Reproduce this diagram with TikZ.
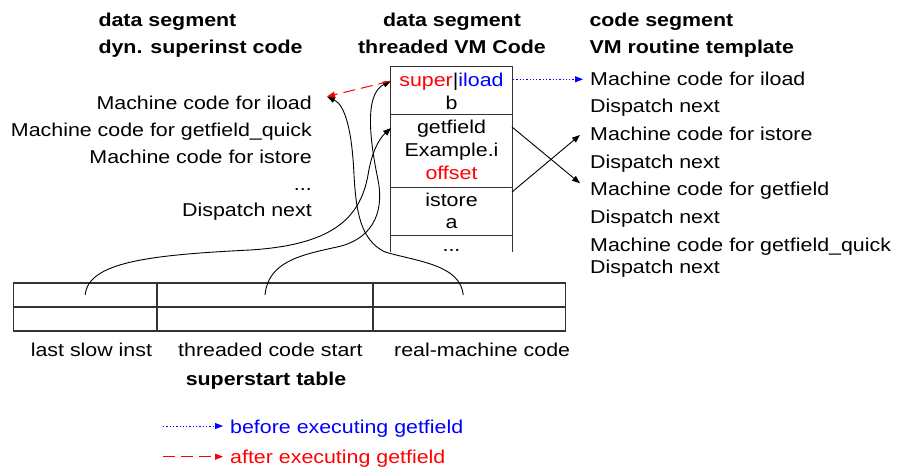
\documentclass[tikz,border=0pt]{standalone}
\usepackage{fontspec}
\setmainfont{Liberation Sans}[FakeStretch=1.15]
\usetikzlibrary{arrows.meta,calc}
\newcommand\fs{\fontsize{18.6}{23}\selectfont}
\begin{document}
\begin{tikzpicture}[x=1pt,y=-1pt,
  every node/.style={inner sep=0pt, font=\fs},
  lbl/.style={anchor=base west},
  lblr/.style={anchor=base east},
  lblc/.style={anchor=base},
  ttl/.style={anchor=base west, font=\fs\bfseries},
  ttlc/.style={anchor=base, font=\fs\bfseries},
  frame/.style={draw=black!80, line width=1.3pt},
  cellbox/.style={minimum width=121pt},
  tcell/.style={draw=black!80, line width=1.1pt, minimum height=24pt},
  link/.style={draw=black, line width=0.9pt, -{Triangle[length=8pt,width=6pt]}},
  before/.style={draw=blue, line width=1pt, dash pattern=on 1.3pt off 2pt, -{Triangle[length=8pt,width=6pt]}},
  after/.style={draw=red, line width=1pt, dash pattern=on 12pt off 6pt, -{Triangle[length=8pt,width=6pt]}},
]
\useasboundingbox (0,0) rectangle (897,468);

% titles
\node[ttl] (t1a) at (98.3,26.7) {data segment};
\node[ttl] (t1b) at (98.3,53.3) {dyn. superinst code};
\node[ttlc] (t2a) at (452,26.7) {data segment};
\node[ttlc] (t2b) at (452,53.3) {threaded VM Code};
\node[ttl] (t3a) at (589.3,26.7) {code segment};
\node[ttl] (t3b) at (589.3,53.3) {VM routine template};

% left column
\node[lblr] (l1) at (312,110) {Machine code for iload};
\node[lblr] (l2) at (312,136.7) {Machine code for getfield\_quick};
\node[lblr] (l3) at (312,163.3) {Machine code for istore};
\node[lblr] (l4) at (312,190) {...};
\node[lblr] (l5) at (312,216.7) {Dispatch next};

% right column
\node[lbl] (r1) at (590,86) {Machine code for iload};
\node[lbl] (r2) at (590,113) {Dispatch next};
\node[lbl] (r3) at (590,141) {Machine code for istore};
\node[lbl] (r4) at (590,168) {Dispatch next};
\node[lbl] (r5) at (590,196) {Machine code for getfield};
\node[lbl] (r6) at (590,223) {Dispatch next};
\node[lbl] (r7) at (590,251) {Machine code for getfield\_quick};
\node[lbl] (r8) at (590,273) {Dispatch next};

% threaded code box
\node[cellbox, minimum height=47pt] (c1) at (451.5,90.5) {};
\node[cellbox, minimum height=73pt] (c2) at (451.5,150.5) {};
\node[cellbox, minimum height=48pt] (c3) at (451.5,211) {};
\node[cellbox, minimum height=17pt] (c4) at (451.5,243.5) {};
\draw[frame] (c4.south west) -- (c1.north west) -- (c1.north east) -- (c4.south east);
\draw[frame] (c1.south west) -- (c1.south east);
\draw[frame] (c2.south west) -- (c2.south east);
\draw[frame] (c3.south west) -- (c3.south east);

\node[lblc] (s1) at (451.5,86.7) {\textcolor{red}{super}|\textcolor{blue}{iload}};
\node[lblc] (s2) at (451.5,109.3) {b};
\node[lblc] (s3) at (451.5,134) {getfield};
\node[lblc] (s4) at (451.5,156.7) {Example.i};
\node[lblc, text=red] (s5) at (451.5,179.3) {offset};
\node[lblc] (s6) at (451.5,206) {istore};
\node[lblc] (s7) at (451.5,228.3) {a};
\node[lblc] (s8) at (451.5,251) {...};

% superstart table
\node[tcell, minimum width=143.6pt] (tA) at (85.2,295) {};
\node[tcell, minimum width=216pt] (tB) at (265,295) {};
\node[tcell, minimum width=192.6pt] (tC) at (469.3,295) {};
\node[tcell, minimum width=143.6pt] (bA) at (85.2,319) {};
\node[tcell, minimum width=216pt] (bB) at (265,319) {};
\node[tcell, minimum width=192.6pt] (bC) at (469.3,319) {};

\node[lbl] (u1) at (30.6,356.7) {last slow inst};
\node[lbl] (u2) at (178,356.7) {threaded code start};
\node[lbl] (u3) at (394,356.7) {real-machine code};
\node[ttlc] (u4) at (266,385) {superstart table};

% connector end points
\coordinate (c1in) at (391,81);
\coordinate (c2in) at (391,128);
\coordinate (l1in) at ($(l1.east)+(15,-6.8)$);
\coordinate (tCs) at ($(tC.center)+(-6,0)$);
\coordinate (c1out) at (513,79.3);
\coordinate (r1in) at (583,79.3);
\coordinate (c2out) at (512,127);
\coordinate (c3out) at (512,192);
\coordinate (r5in) at (580,183.3);
\coordinate (r3in) at (580,135);

% curves from table
\draw[link] (tA.center) .. controls (88,262) and (150,255) .. (250,250)
  .. controls (330,245) and (360,220) .. (368,175)
  .. controls (372,150) and (380,138) .. (c2in);
\draw[link] (tB.center) .. controls (268,262) and (300,255) .. (337,247)
  .. controls (370,240) and (385,215) .. (378,180)
  .. controls (372,150) and (362,95) .. (c1in);
\draw[link] (tCs) .. controls (460,265) and (420,262) .. (385,252)
  .. controls (360,240) and (356,210) .. (354,175)
  .. controls (352,130) and (345,105) .. (l1in);

% straight arrows
\draw[link] (c2out) -- (r5in);
\draw[link] (c3out) -- (r3in);
\draw[before] (c1out) -- (r1in);
\draw[after, shorten <=1pt] (c1in) -- (l1in);

% legend
\coordinate (lg1s) at (163,426);
\coordinate (lg1e) at (223,426);
\coordinate (lg2s) at (163,456.7);
\coordinate (lg2e) at (223,456.7);
\draw[before] (lg1s) -- (lg1e);
\draw[after] (lg2s) -- (lg2e);
\node[lbl, text=blue] (g1) at (230,433.3) {before executing getfield};
\node[lbl, text=red] (g2) at (230,463.3) {after executing getfield};
\end{tikzpicture}
\end{document}
